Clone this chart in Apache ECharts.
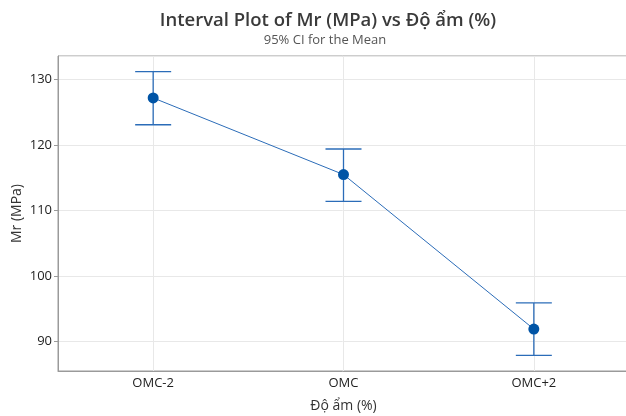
<!DOCTYPE html>
<html>
<head>
<meta charset="utf-8">
<script src="https://cdn.jsdelivr.net/npm/echarts@6/dist/echarts.min.js"></script>
<style>
  html, body { margin: 0; padding: 0; background: #fff; }
  #main { width: 626px; height: 416px; }
</style>
</head>
<body>
<div id="main"></div>
<script>
// dữ liệu
const categories = ['OMC-2', 'OMC', 'OMC+2'];
const means = [127.2, 115.5, 91.9];
const lower = [123.1, 111.4, 87.9];
const upper = [131.2, 119.4, 95.9];
const yTicks = [90, 100, 110, 120, 130];

const chart = echarts.init(document.getElementById('main'));
const font = '"Open Sans", "Noto Sans", sans-serif';
const blue = '#0054a6';

const option = {
  animation: false,
  textStyle: { fontFamily: font },
  title: [
    {
      text: 'Interval Plot of Mr (MPa) vs Độ ẩm (%)',
      left: 323, top: 6, textAlign: 'center',
      textStyle: { fontSize: 18.5, fontWeight: 600, color: '#3a3a3a', fontFamily: font }
    },
    {
      text: '95% CI for the Mean',
      left: 320, top: 29, textAlign: 'center',
      textStyle: { fontSize: 13, fontWeight: 'normal', color: '#555', fontFamily: font }
    }
  ],
  grid: {
    left: 58, top: 56, bottom: 45, right: -3,
    outerBoundsMode: 'none',
    containLabel: false,
    show: true, borderColor: '#9a9a9a', borderWidth: 1
  },
  xAxis: {
    type: 'category',
    data: categories,
    boundaryGap: true,
    name: 'Độ ẩm (%)',
    nameLocation: 'middle',
    nameGap: 28,
    nameTextStyle: { fontSize: 14, color: '#333', fontWeight: 500 },
    axisLine: { lineStyle: { color: '#9a9a9a' } },
    axisTick: { alignWithLabel: true, length: 4, lineStyle: { color: '#9a9a9a' } },
    axisLabel: { fontSize: 13, color: '#222', margin: 6, fontWeight: 500 },
    splitLine: { show: false }
  },
  yAxis: {
    type: 'value',
    min: 85.5,
    max: 133.6,
    name: 'Mr (MPa)',
    nameLocation: 'middle',
    nameGap: 34,
    nameMoveOverlap: false,
    nameTextStyle: { fontSize: 14, color: '#333', fontWeight: 500 },
    axisLine: { show: true, lineStyle: { color: '#9a9a9a' } },
    axisTick: { show: true, length: 4, lineStyle: { color: '#9a9a9a' } },
    axisLabel: {
      fontSize: 13, color: '#222', margin: 6, fontWeight: 500,
      showMinLabel: false, showMaxLabel: false,
      formatter: v => (yTicks.indexOf(v) >= 0 ? String(v) : '')
    },
    splitLine: { lineStyle: { color: '#e8e8e8' } }
  },
  series: [
    {
      type: 'custom',
      z: 3,
      data: categories.map((c, i) => [i, lower[i], upper[i]]),
      renderItem: function (params, api) {
        const lo = api.coord([api.value(0), api.value(1)]);
        const hi = api.coord([api.value(0), api.value(2)]);
        const half = 18;
        const style = { stroke: '#2b6cb8', lineWidth: 1.3 };
        return {
          type: 'group',
          children: [
            { type: 'line', shape: { x1: lo[0], y1: lo[1], x2: hi[0], y2: hi[1] }, style: style },
            { type: 'line', shape: { x1: hi[0] - half, y1: hi[1], x2: hi[0] + half, y2: hi[1] }, style: style },
            { type: 'line', shape: { x1: lo[0] - half, y1: lo[1], x2: lo[0] + half, y2: lo[1] }, style: style }
          ]
        };
      },
      markLine: {
        silent: true,
        symbol: 'none',
        label: { show: false },
        lineStyle: { color: '#e8e8e8', type: 'solid', width: 1 },
        z: 1,
        data: categories.map(c => ({ xAxis: c }))
      }
    },
    {
      type: 'line',
      z: 4,
      data: means,
      symbol: 'circle',
      symbolSize: 11,
      itemStyle: { color: blue },
      lineStyle: { color: '#2b6cb8', width: 1 }
    }
  ]
};

chart.setOption(option);
</script>
</body>
</html>
